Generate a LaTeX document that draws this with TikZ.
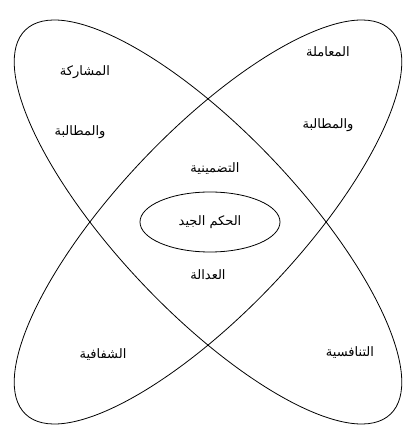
\documentclass[tikz,border=0pt]{standalone}
\usepackage{fontspec}
\newfontfamily\arabicfont[Script=Arabic]{DejaVu Sans}
\TeXXeTstate=1
\begin{document}
\begin{tikzpicture}[x=1pt,y=1pt,
  ring/.style={draw=black,line width=0.8pt},
  lbl/.style={font=\arabicfont\fontsize{13}{15}\selectfont,inner sep=1pt}]
\useasboundingbox (0,0) rectangle (414,437);
\fill[white] (0,0) rectangle (414,437);
\draw[ring,rotate around={-46.5:(208,215)}] (208,215) ellipse [x radius=265pt, y radius=90pt];
\draw[ring,rotate around={46.5:(208,215)}] (208,215) ellipse [x radius=265pt, y radius=90pt];
\draw[ring] (210,215) ellipse [x radius=70pt, y radius=30pt];
\node[lbl] (tl1) at (85,365) {\beginR المشاركة\endR};
\node[lbl] (tl2) at (80,305) {\beginR والمطالبة\endR};
\node[lbl] (tr1) at (328,385) {\beginR المعاملة\endR};
\node[lbl] (tr2) at (328,312) {\beginR والمطالبة\endR};
\node[lbl] (c1) at (215,268) {\beginR التضمينية\endR};
\node[lbl] (c2) at (210,215) {\beginR الحكم الجيد\endR};
\node[lbl] (c3) at (208,162) {\beginR العدالة\endR};
\node[lbl] (bl) at (103,82) {\beginR الشفافية\endR};
\node[lbl] (br) at (350,84) {\beginR التنافسية\endR};
\end{tikzpicture}
\end{document}
